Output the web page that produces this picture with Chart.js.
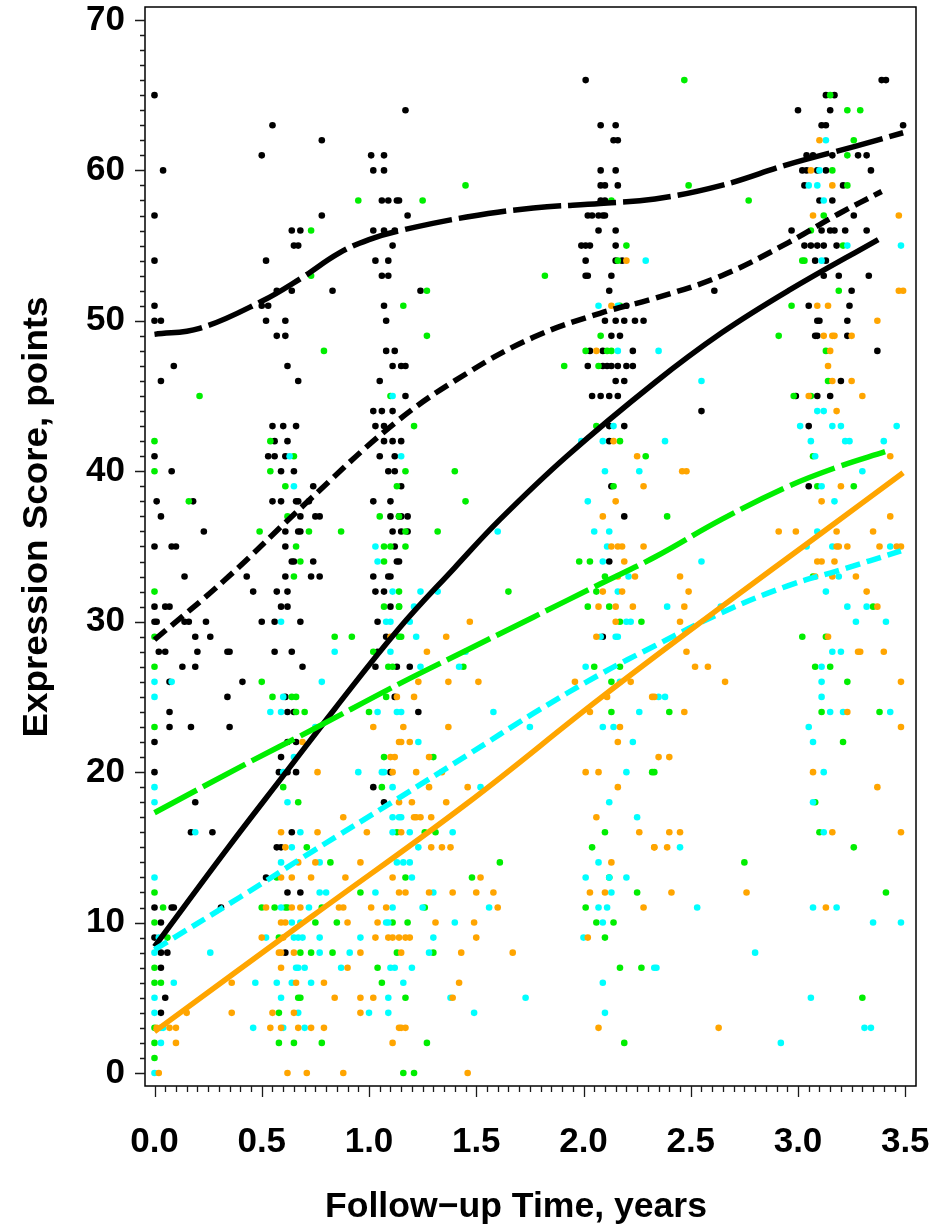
<!DOCTYPE html>
<html>
<head>
<meta charset="utf-8">
<script src="https://cdn.jsdelivr.net/npm/chart.js@4.4.1/dist/chart.umd.min.js"></script>
<style>
  html, body { margin: 0; padding: 0; background: #fff; }
  canvas { display: block; }
</style>
</head>
<body>
<canvas id="c" width="951" height="1228"></canvas>
<script>
// ---------- axis setup ----------
const xTicks = [0, 0.5, 1.0, 1.5, 2.0, 2.5, 3.0, 3.5];
const yTicks = [0, 10, 20, 30, 40, 50, 60, 70];
const xTitle = "Follow\u2212up Time, years";
const yTitle = "Expression Score, points";

// ---------- observed points [time, score] ----------
const blackPts = [
[0.00,65],[0.55,63],[0.78,62],[0.50,61],[1.01,61],[1.07,61],[0.04,60],[1.02,60],[1.07,60],[1.06,58],[1.09,58],[1.13,58],[0.00,57],[0.78,57],[0.64,56],[0.68,56],[1.02,56],[1.07,56],[1.12,56],[0.65,55],[0.67,55],[1.11,55],[0.00,54],[0.52,54],[1.03,54],[1.09,54],[1.06,53],[1.09,53],[0.57,52],[0.64,52],[0.83,52],[0.00,51],[0.50,51],[0.53,51],[1.07,51],[0.00,50],[0.03,50],[0.52,50],[0.61,50],[1.08,50],[0.57,49],[0.61,49],[1.08,48],[1.12,48],[0.09,47],[0.62,47],[1.11,47],[0.03,46],[0.67,46],[1.05,46],[1.02,44],[1.06,44],[1.11,44],[0.55,43],[0.60,43],[0.66,43],[1.03,43],[1.07,43],[0.56,42],[0.62,42],[1.07,42],[1.11,42],[0.00,41],[0.53,41],[0.56,41],[0.61,41],[1.05,41],[1.12,41],[0.08,40],[0.59,40],[0.65,40],[1.09,40],[1.12,40],[0.74,39],[0.01,38],[0.18,38],[0.55,38],[0.59,38],[0.66,38],[0.67,38],[0.72,38],[1.02,38],[1.10,38],[0.03,37],[0.68,37],[0.75,37],[0.77,37],[1.10,37],[1.14,37],[0.23,36],[0.61,36],[0.67,36],[0.68,36],[1.11,36],[0.00,35],[0.08,35],[0.10,35],[0.61,35],[1.12,35],[0.64,34],[0.65,34],[0.74,34],[1.13,34],[0.14,33],[0.43,33],[0.61,33],[0.73,33],[0.77,33],[1.02,33],[1.09,33],[1.10,33],
[0.46,32],[0.57,32],[0.62,32],[1.03,32],[1.07,32],[0.00,31],[0.05,31],[0.07,31],[0.59,31],[0.62,31],[1.10,31],[0.00,30],[0.01,30],[0.14,30],[0.16,30],[0.24,30],[0.50,30],[0.56,30],[0.68,30],[1.04,30],[0.19,29],[0.26,29],[1.08,29],[0.02,28],[0.05,28],[0.20,28],[0.34,28],[0.35,28],[0.56,28],[0.64,28],[1.04,28],[0.13,27],[0.19,27],[0.69,27],[1.03,27],[1.13,27],[0.07,26],[0.41,26],[0.34,25],[0.61,25],[1.12,25],[0.07,24],[0.62,24],[0.65,24],[0.07,23],[0.17,23],[0.35,23],[0.00,22],[0.62,22],[0.66,22],[0.59,21],[0.00,20],[0.58,20],[0.62,20],[0.66,20],[1.10,20],[1.02,19],[0.19,18],[1.07,18],[0.17,16],[0.27,16],[0.64,16],[0.57,15],[0.59,15],[0.52,13],[0.62,12],[0.68,12],[0.00,11],[0.08,11],[0.09,11],[0.31,11],[0.03,10],[0.00,9],[0.03,8],[0.06,8],[0.61,8],[0.03,7],[0.05,5],[0.03,4],
[2.01,66],[1.17,64],[2.08,63],[2.15,63],[2.14,62],[2.16,62],[2.08,60],[2.15,60],[2.08,59],[2.10,59],[2.16,59],[1.14,58],[2.08,58],[2.10,58],[1.18,57],[2.02,57],[2.04,57],[2.07,57],[2.09,57],[2.10,57],[2.07,56],[2.15,56],[1.99,55],[2.01,55],[2.03,55],[2.15,55],[2.01,54],[2.15,54],[2.18,54],[2.01,53],[2.02,53],[2.13,53],[1.24,52],[2.12,52],[2.20,51],[2.10,50],[2.15,50],[2.19,50],[2.24,50],[2.28,50],[2.13,49],[2.17,49],[2.03,48],[2.09,48],[2.23,48],[1.15,47],[1.17,47],[2.02,47],[2.09,47],[2.11,47],[2.13,47],[2.16,47],[2.20,47],[2.23,47],[2.15,46],[2.19,46],[1.17,45],[2.04,45],[2.08,45],[2.12,45],[2.16,45],[2.12,43],[2.19,43],[1.15,42],[2.12,42],[1.15,39],[2.13,39],[1.15,37],[1.18,37],[2.19,37],[1.15,36],[1.18,36],[1.14,34],[2.12,34],[2.09,29],[1.19,27],[1.23,24],
[3.39,66],[3.41,66],[3.13,65],[3.17,65],[3.00,64],[3.15,64],[3.11,63],[3.13,63],[3.49,63],[3.04,61],[3.07,61],[3.16,61],[3.28,61],[3.32,61],[3.02,60],[3.04,60],[3.09,60],[3.13,60],[3.34,60],[3.03,59],[3.21,59],[3.10,58],[3.16,58],[3.26,57],[2.97,56],[3.11,56],[3.15,56],[3.17,56],[3.22,56],[3.32,56],[3.03,55],[3.06,55],[3.09,55],[3.12,55],[3.18,55],[3.08,54],[3.13,54],[3.12,53],[3.19,53],[3.33,53],[2.61,52],[3.25,52],[3.05,51],[3.24,51],[3.09,50],[3.10,50],[3.23,50],[3.08,49],[3.09,49],[3.23,49],[3.37,48],[3.20,46],[2.99,45],[3.09,45],[3.15,45],[2.55,44],[3.05,43],[3.05,39]
];
const greenPts = [
[0.95,58],[0.73,56],[0.73,53],[0.79,48],[0.21,45],[1.10,45],[0.00,42],[0.54,42],[0.65,41],[0.00,40],[0.54,40],[0.61,39],[1.13,39],[0.16,38],[0.62,37],[1.05,37],[1.14,37],[0.49,36],[0.72,36],[0.87,36],[0.66,35],[1.07,35],[1.10,35],[0.68,34],[1.07,34],[0.65,33],
[0.00,32],[1.14,32],[1.07,31],[1.14,31],[0.00,29],[0.84,29],[0.92,29],[1.14,29],[1.02,28],[0.00,27],[1.09,27],[1.11,27],[0.50,26],[0.55,25],[0.64,25],[0.66,25],[1.08,25],[0.66,24],[0.70,24],[1.00,24],[0.00,23],[1.07,21],[0.60,19],[1.06,19],[0.67,18],[1.13,16],[0.71,15],[0.82,14],[0.57,13],[0.00,12],[0.96,12],[0.04,11],[0.50,11],[0.56,11],[0.61,11],[0.62,11],[0.78,11],[0.00,10],[0.75,10],[0.85,10],[1.11,10],[0.06,9],[0.58,9],[0.68,8],[0.73,8],[0.83,8],[1.13,8],[0.00,7],[1.04,7],[0.00,6],[0.03,6],[1.06,6],[0.67,5],[0.68,5],[0.58,4],[0.00,3],[0.00,2],[0.58,2],[0.65,2],[0.78,2],[0.00,1],
[1.45,59],[1.25,58],[2.13,58],[2.20,55],[2.16,54],[1.82,53],[1.27,52],[1.16,51],[2.17,51],[1.27,49],[2.08,49],[2.01,48],[2.11,48],[2.13,48],[1.91,47],[2.07,47],[1.21,43],[2.06,43],[2.17,42],[2.29,41],[1.17,40],[1.40,40],[2.14,39],[1.45,38],[1.17,36],[1.32,36],[1.17,35],[1.98,34],[2.03,34],[2.10,33],
[1.65,32],[2.06,32],[1.14,31],[2.02,31],[2.12,31],[2.17,30],[2.27,30],[1.15,29],[1.44,27],[2.05,27],[2.17,27],[2.13,26],[2.13,24],[1.30,21],[2.32,20],[1.26,16],[1.31,16],[2.10,16],[2.04,15],[1.61,14],[1.17,13],[1.48,13],[2.12,13],[2.25,12],[1.26,11],[2.01,11],[1.18,10],[2.06,10],[2.14,10],[2.10,9],[1.30,8],[2.17,7],[2.27,7],[1.17,5],[1.27,2],[2.19,2],[1.16,0],[1.21,0],
[2.47,66],[3.15,65],[3.23,64],[3.29,64],[3.26,62],[3.23,61],[3.16,60],[2.49,59],[3.23,59],[2.77,58],[3.12,57],[3.06,56],[3.21,55],[3.02,54],[3.03,54],[3.19,52],[2.97,51],[2.91,49],[3.13,48],[3.14,46],[2.98,45],[3.06,45],[3.07,41],[3.09,39],[3.26,39],[2.39,37],
[3.07,33],[3.35,31],[3.02,29],[3.13,29],[3.08,27],[3.15,27],[3.23,26],[2.40,24],[3.11,24],[3.38,24],[3.21,22],[2.33,20],[3.08,18],[3.10,16],[3.26,15],[2.75,14],[3.41,12],[3.30,5]
];
const cyanPts = [
[1.11,45],[0.63,41],[0.65,39],[1.03,35],[1.04,34],
[1.11,32],[0.59,30],[1.08,30],[1.10,30],[0.84,28],[1.10,28],[0.00,26],[0.08,26],[0.78,26],[0.00,25],[0.60,25],[0.54,24],[0.59,24],[1.04,24],[1.13,24],[0.75,23],[0.65,21],[0.60,20],[0.95,20],[1.06,20],[1.07,20],[0.00,19],[1.11,19],[0.00,18],[0.62,18],[1.11,17],[1.14,17],[0.19,16],[0.68,16],[1.11,16],[0.64,15],[0.59,14],[0.77,14],[1.13,14],[0.00,13],[0.77,12],[0.80,12],[1.03,12],[0.59,11],[0.72,11],[1.11,11],[0.64,10],[0.68,10],[1.08,10],[1.09,10],[0.02,9],[0.52,9],[0.65,9],[0.67,9],[0.69,9],[0.77,9],[0.96,9],[0.00,8],[0.26,8],[0.77,8],[0.91,8],[0.66,7],[0.67,7],[0.70,7],[0.87,7],[1.10,7],[1.12,7],[0.09,6],[0.47,6],[0.57,6],[0.64,6],[0.73,6],[0.00,5],[0.59,5],[1.09,5],[0.00,4],[0.67,4],[1.00,4],[1.09,4],[0.03,3],[0.04,3],[0.46,3],[0.60,3],[0.70,3],[0.03,2],[0.00,0],
[2.29,54],[2.07,51],[2.16,51],[2.16,48],[2.14,43],[1.99,42],[2.09,42],[1.15,41],[2.10,40],[2.26,40],[2.02,38],[1.60,36],[2.05,36],[2.12,36],[2.11,35],[2.09,34],[2.21,33],
[1.24,32],[1.32,32],[2.16,32],[1.21,31],[1.19,30],[2.20,30],[2.22,30],[1.22,29],[2.08,29],[2.15,29],[2.16,29],[1.45,28],[1.24,27],[1.42,27],[2.01,27],[2.17,26],[1.15,24],[1.58,24],[2.26,24],[1.75,23],[2.09,23],[2.14,23],[1.23,22],[2.23,22],[2.20,20],[1.52,19],[2.12,18],[1.15,17],[2.25,17],[1.19,16],[1.39,16],[1.23,15],[1.16,14],[1.19,14],[2.07,14],[1.20,13],[2.01,13],[2.12,13],[2.20,13],[1.30,12],[2.13,12],[1.25,11],[1.56,11],[2.07,11],[2.11,11],[1.40,10],[2.09,10],[1.30,9],[2.00,9],[1.28,8],[1.20,7],[2.33,7],[1.16,6],[2.09,6],[1.38,5],[1.73,5],[1.49,4],[2.10,4],
[3.13,62],[3.10,60],[3.05,59],[3.09,59],[3.12,58],[3.23,55],[3.48,55],[3.11,54],[2.35,48],[2.55,46],[3.09,44],[3.12,44],[3.01,43],[3.16,43],[3.20,43],[3.46,43],[2.38,42],[3.06,42],[3.22,42],[3.24,42],[3.40,42],[3.08,41],[3.30,40],[3.11,39],[3.17,38],[3.09,36],[3.04,35],[3.16,35],[3.43,35],[2.55,34],
[3.19,33],[3.13,32],[2.39,31],[2.64,31],[3.23,31],[3.32,31],[3.27,30],[3.41,30],[3.16,28],[3.20,28],[3.11,27],[3.11,26],[2.35,25],[2.38,25],[3.11,25],[3.15,24],[3.21,24],[3.43,24],[3.05,23],[3.07,22],[3.12,20],[3.07,18],[3.12,16],[2.45,15],[2.53,11],[3.07,11],[3.18,11],[3.35,10],[3.48,10],[2.80,8],[2.34,7],[3.06,5],[3.31,3],[3.34,3],[2.92,2]
];
const orangePts = [
[1.10,29],[1.13,25],[1.02,23],[0.69,22],[1.14,22],[1.10,21],[1.12,21],[0.76,20],[1.11,20],[1.14,18],[0.88,17],[0.59,16],[0.76,16],[0.99,16],[0.61,15],[0.67,14],[0.75,14],[0.96,14],[0.59,13],[0.64,13],[0.73,13],[0.89,13],[1.11,13],[1.14,12],[0.52,11],[0.64,11],[0.68,11],[0.86,11],[0.88,11],[1.01,11],[1.08,11],[0.59,10],[0.61,10],[0.90,10],[1.04,10],[0.50,9],[0.60,9],[1.03,9],[1.09,9],[1.11,9],[1.14,9],[0.58,8],[0.59,8],[0.65,8],[0.96,8],[0.59,7],[0.90,7],[0.36,6],[0.66,6],[0.79,6],[0.84,5],[0.96,5],[1.02,5],[0.15,4],[0.36,4],[0.55,4],[0.65,4],[0.96,4],[0.01,3],[0.07,3],[0.10,3],[0.54,3],[0.59,3],[0.67,3],[0.73,3],[0.79,3],[1.14,3],[0.10,2],[1.11,2],[0.02,0],[0.62,0],[0.71,0],[0.88,0],
[2.20,54],[2.13,51],[2.06,48],[2.14,42],[2.25,41],[2.28,39],[2.15,38],[2.09,37],[2.13,35],[2.16,35],[2.18,35],[2.28,35],[2.19,34],[2.16,33],[2.24,33],
[2.09,32],[2.18,32],[2.07,31],[2.15,31],[2.23,31],[1.47,30],[2.15,30],[1.36,29],[2.06,29],[1.27,28],[1.23,26],[1.37,26],[1.51,26],[1.96,26],[2.22,26],[1.21,25],[2.11,25],[2.32,25],[2.03,24],[1.16,23],[1.37,23],[2.17,23],[1.15,22],[1.19,22],[2.16,22],[1.28,21],[1.22,20],[1.34,20],[2.01,20],[2.07,20],[1.28,19],[1.46,19],[2.16,19],[1.20,18],[1.36,18],[1.21,17],[1.22,17],[1.24,17],[1.29,17],[2.06,17],[1.15,16],[2.26,16],[1.29,15],[1.34,15],[1.38,15],[2.33,15],[2.13,14],[1.52,13],[1.17,12],[1.28,12],[1.39,12],[1.50,12],[1.58,12],[2.03,12],[2.10,12],[1.60,11],[2.28,11],[1.31,10],[1.49,10],[1.17,9],[1.19,9],[1.50,9],[2.02,9],[1.15,8],[1.43,8],[1.67,8],[1.42,6],[1.39,5],[1.15,3],[1.17,3],[2.07,3],[1.46,0],
[3.10,62],[3.06,60],[3.16,59],[3.07,57],[3.47,57],[3.47,52],[3.49,52],[3.09,51],[3.14,51],[3.37,50],[3.12,49],[3.16,49],[3.17,49],[3.25,49],[3.15,48],[3.14,47],[3.16,46],[3.25,46],[3.05,45],[3.30,45],[3.18,44],[3.43,41],[2.46,40],[2.48,40],[3.20,39],[3.11,38],[3.43,37],[2.91,36],[2.99,36],[3.18,36],[3.35,36],[3.18,35],[3.19,35],[3.23,35],[3.38,35],[3.46,35],[3.48,35],[3.09,34],[3.11,34],[3.17,34],
[2.45,33],[3.08,33],[3.16,33],[3.27,33],[2.49,32],[3.32,32],[2.47,31],[3.37,31],[2.45,30],[3.14,29],[2.48,28],[3.28,28],[3.29,28],[3.40,28],[2.52,27],[2.58,27],[2.66,26],[3.48,26],[2.33,25],[2.47,24],[3.23,24],[3.48,23],[2.35,21],[2.40,21],[3.07,20],[3.37,19],[2.40,16],[2.45,16],[3.16,16],[3.48,16],[2.33,15],[2.39,15],[2.41,12],[2.76,12],[3.13,11],[2.63,3]
];

// ---------- fitted curves ----------
const topX    = [0, 0.21, 0.50, 0.68, 0.86, 1.00, 1.145, 1.455, 1.766, 2.077, 2.333, 2.644, 2.955, 3.266, 3.49];
const topY    = [49.1, 49.5, 51.3, 52.8, 54.5, 55.4, 56.0, 56.9, 57.5, 57.8, 58.1, 59.0, 60.4, 61.6, 62.5];
const midX    = [0, 0.33, 0.70, 1.12, 1.455, 1.766, 2.077, 2.333, 2.644, 2.955, 3.188, 3.39];
const midY    = [28.8, 32.8, 37.8, 43.2, 46.5, 48.9, 50.5, 51.5, 53.0, 55.2, 57.1, 58.6];
const solidX  = [0, 0.344, 0.608, 0.84, 1.137, 1.40, 1.611, 1.922, 2.333, 2.644, 2.955, 3.374];
const solidY  = [8.4, 15.0, 19.9, 24.2, 29.5, 33.6, 36.8, 41.0, 45.9, 49.2, 52.0, 55.4];
const greenX  = [0, 0.42, 0.733, 1.145, 1.455, 1.766, 2.077, 2.333, 2.644, 2.955, 3.188, 3.406];
const greenY  = [17.3, 20.5, 22.8, 25.9, 28.1, 30.3, 32.5, 34.3, 36.8, 39.0, 40.3, 41.3];
const cyanX   = [0, 0.40, 0.733, 1.13, 1.455, 1.766, 2.077, 2.333, 2.644, 2.955, 3.188, 3.48];
const cyanY   = [8.2, 11.7, 14.7, 18.2, 21.1, 23.9, 26.5, 28.4, 30.6, 32.4, 33.4, 34.7];
const orangeX = [0, 0.733, 1.455, 2.077, 2.644, 3.11, 3.49];
const orangeY = [2.75, 10.4, 17.9, 24.9, 31.0, 35.9, 39.9];

// ---------- build ----------
const toXY = arr => arr.map(p => ({x: p[0], y: p[1]}));
const zipXY = (xs, ys) => xs.map((v, i) => ({x: v, y: ys[i]}));
const FONT = "'Liberation Sans', Arial, Helvetica, sans-serif";

function pointSet(data, color, order) {
  return { type: 'scatter', data: toXY(data), backgroundColor: color, borderWidth: 0,
           pointRadius: 3.3, pointHoverRadius: 3.3, order: order, showLine: false };
}
function curveSet(xs, ys, color, width, dash) {
  return { type: 'line', data: zipXY(xs, ys), borderColor: color, borderWidth: width,
           borderDash: dash, borderCapStyle: 'butt', borderJoinStyle: 'round', pointRadius: 0, fill: false,
           tension: 0.4, order: 0 };
}

const datasets = [
  curveSet(orangeX, orangeY, '#ffa500', 5.5, []),
  curveSet(cyanX, cyanY, '#00ffff', 5.5, [15, 7]),
  curveSet(greenX, greenY, '#00ee00', 5.5, [48, 7]),
  curveSet(solidX, solidY, '#000000', 5.5, []),
  curveSet(midX, midY, '#000000', 5.5, [15, 7]),
  curveSet(topX, topY, '#000000', 5.5, [48, 7]),
  pointSet(orangePts, '#ffa500', 1),
  pointSet(cyanPts, '#00ffff', 2),
  pointSet(greenPts, '#00ee00', 3),
  pointSet(blackPts, '#000000', 4)
];

const decor = {
  id: 'decor',
  afterDraw(chart) {
    const {ctx, chartArea: a} = chart;
    const xs = chart.scales.x, ys = chart.scales.y;
    ctx.save();
    // frame
    ctx.strokeStyle = '#000';
    ctx.lineWidth = 1.5;
    ctx.strokeRect(a.left, a.top, a.right - a.left, a.bottom - a.top);
    // y ticks (major every 10, minor every 1)
    ctx.strokeStyle = '#1a1a1a';
    ctx.lineWidth = 1.3;
    ctx.beginPath();
    for (let v = 0; v <= 70; v++) {
      const py = Math.round(ys.getPixelForValue(v)) + 0.5;
      const len = (v % 10 === 0) ? 10 : 5;
      ctx.moveTo(a.left - len, py); ctx.lineTo(a.left, py);
    }
    // x ticks (major every 0.5, minor every 0.05)
    for (let i = 0; i <= 70; i++) {
      const px = Math.round(xs.getPixelForValue(i * 0.05)) + 0.5;
      const len = (i % 10 === 0) ? 11 : 6;
      ctx.moveTo(px, a.bottom); ctx.lineTo(px, a.bottom + len);
    }
    ctx.stroke();
    // axis titles
    ctx.fillStyle = '#000';
    ctx.font = "bold 35px " + FONT;
    ctx.textBaseline = 'alphabetic';
    ctx.textAlign = 'center';
    let w = ctx.measureText(xTitle).width;
    ctx.save();
    ctx.translate(516, 1217);
    ctx.scale(382 / w, 1);
    ctx.fillText(xTitle, 0, 0);
    ctx.restore();
    w = ctx.measureText(yTitle).width;
    ctx.save();
    ctx.translate(47, 517);
    ctx.rotate(-Math.PI / 2);
    ctx.scale(441 / w, 1);
    ctx.fillText(yTitle, 0, 0);
    ctx.restore();
    ctx.restore();
  }
};

new Chart(document.getElementById('c'), {
  type: 'scatter',
  data: { datasets },
  options: {
    responsive: false,
    animation: false,
    events: [],
    layout: { padding: { top: 7, right: 35, left: 0, bottom: 0 } },
    plugins: { legend: { display: false }, tooltip: { enabled: false }, title: { display: false } },
    scales: {
      x: {
        type: 'linear', min: -0.0443, max: 3.5501,
        grid: { display: false, drawTicks: false }, border: { display: false },
        afterBuildTicks: s => { s.ticks = xTicks.map(v => ({value: v})); },
        afterFit: s => { s.height = 142; s.paddingLeft = 0; s.paddingRight = 0; },
        ticks: { autoSkip: false, maxRotation: 0, padding: 35, color: '#000',
                 font: { family: FONT, size: 35, weight: 'bold' },
                 callback: v => Number(v).toFixed(1) }
      },
      y: {
        type: 'linear', min: -0.864, max: 70.86,
        grid: { display: false, drawTicks: false }, border: { display: false },
        afterBuildTicks: s => { s.ticks = yTicks.map(v => ({value: v})); },
        afterFit: s => { s.width = 145; s.paddingTop = 0; s.paddingBottom = 0; },
        ticks: { autoSkip: false, padding: 20, color: '#000',
                 font: { family: FONT, size: 35, weight: 'bold' },
                 callback: v => String(v) }
      }
    }
  },
  plugins: [decor]
});
</script>
</body>
</html>
